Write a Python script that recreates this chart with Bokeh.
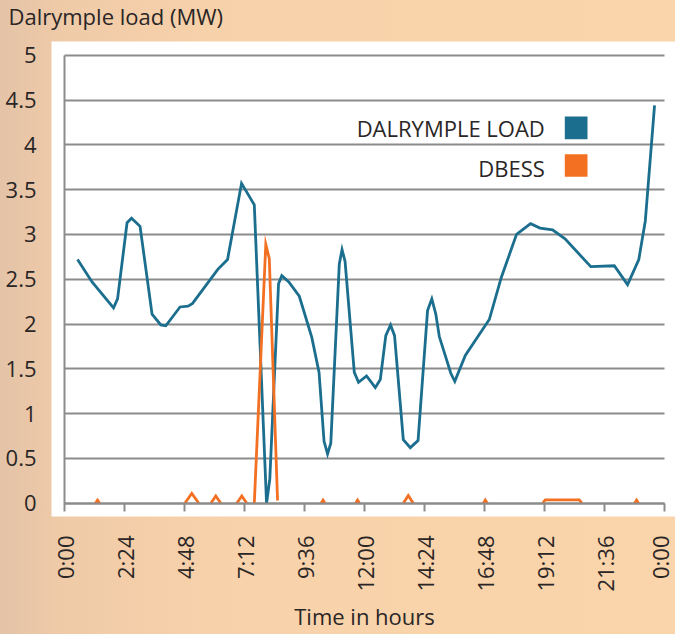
import math
from bokeh.plotting import figure
from bokeh.models import Range1d, LinearAxis, FixedTicker, Label, BoxAnnotation, CustomJSTickFormatter
from bokeh.embed import file_html
from bokeh.resources import INLINE

NAN = float("nan")

# ---- data (hours of day, MW) ----
LOAD_HOURS = [0.51, 1.09, 1.95, 2.11, 2.49, 2.67, 3.01, 3.49, 3.84, 4.04, 4.61, 4.93, 5.11,
              6.12, 6.51, 7.07, 7.58, 8.07, 8.20, 8.55, 8.68, 8.96, 9.38, 9.88, 10.17, 10.37,
              10.51, 10.64, 10.98, 11.09, 11.21, 11.58, 11.75, 12.07, 12.42, 12.62, 12.84,
              13.03, 13.19, 13.54, 13.82, 14.13, 14.51, 14.68, 14.84, 14.98, 15.44, 15.60,
              16.02, 16.98, 17.46, 18.07, 18.63, 19.01, 19.51, 20.01, 21.04, 21.98, 22.51,
              22.96, 23.22, 23.59]
LOAD_MW = [2.72, 2.47, 2.18, 2.28, 3.13, 3.18, 3.09, 2.11, 1.99, 1.98, 2.19, 2.20, 2.23,
           2.61, 2.72, 3.57, 3.33, 0.00, 0.27, 2.45, 2.54, 2.47, 2.31, 1.85, 1.46, 0.69,
           0.55, 0.67, 2.67, 2.83, 2.70, 1.46, 1.35, 1.42, 1.29, 1.38, 1.87,
           1.99, 1.87, 0.71, 0.62, 0.70, 2.15, 2.28, 2.11, 1.86, 1.45, 1.36,
           1.65, 2.05, 2.52, 3.00, 3.12, 3.07, 3.05, 2.95, 2.64, 2.65, 2.44,
           2.72, 3.15, 4.44]

DBESS_HOURS = [1.22, 1.31, 1.40, NAN,
               4.80, 5.08, 5.36, NAN,
               5.84, 6.04, 6.24, NAN,
               6.88, 7.08, 7.28, NAN,
               7.58, 8.04, 8.18, 8.51, NAN,
               10.25, 10.33, 10.41, NAN,
               11.63, 11.71, 11.79, NAN,
               13.54, 13.74, 13.94, NAN,
               16.74, 16.82, 16.90, NAN,
               19.12, 19.22, 20.58, 20.68, NAN,
               22.79, 22.87, 22.95]
DBESS_MW = [0.0, 0.035, 0.0, NAN,
            0.0, 0.11, 0.0, NAN,
            0.0, 0.08, 0.0, NAN,
            0.0, 0.08, 0.0, NAN,
            0.0, 2.89, 2.73, 0.03, NAN,
            0.0, 0.035, 0.0, NAN,
            0.0, 0.035, 0.0, NAN,
            0.0, 0.085, 0.0, NAN,
            0.0, 0.035, 0.0, NAN,
            0.0, 0.038, 0.038, 0.0, NAN,
            0.0, 0.035, 0.0]

X_TICKS = [0, 2.4, 4.8, 7.2, 9.6, 12, 14.4, 16.8, 19.2, 21.6, 24]
X_TICK_LABELS = ["0:00", "2:24", "4:48", "7:12", "9:36", "12:00", "14:24", "16:48",
                 "19:12", "21:36", "0:00"]
Y_TICKS = [0, 0.5, 1, 1.5, 2, 2.5, 3, 3.5, 4, 4.5, 5]
Y_TICK_LABELS = ["0", "0.5", "1", "1.5", "2", "2.5", "3", "3.5", "4", "4.5", "5"]

TITLE = "Dalrymple load (MW)"
X_TITLE = "Time in hours"
SERIES_NAMES = ["DALRYMPLE LOAD", "DBESS"]
BLUE = "#1B6E8E"
ORANGE = "#F37022"
GRAY = "#8C8C8C"
TEXT = "#2A2626"
FONT = "Open Sans"
FS = "22px"

# the frame covers the whole canvas; the white panel is a box in data space
X0, X1 = -2.572, 24.428
Y0, Y1 = -1.4654, 5.6105
PANEL_L, PANEL_B, PANEL_T = -0.532, -0.1484, 5.153

p = figure(width=675, height=634, output_backend="svg", toolbar_location=None,
           x_range=Range1d(X0, X1), y_range=Range1d(Y0, Y1),
           x_axis_location=None, y_axis_location=None, min_border=0)

p.background_fill_color = None
p.border_fill_color = None
p.outline_line_color = None
p.styles = {"background-image": "linear-gradient(to right, #E4C3A7 0%, #F0CBA8 10%, #F8D2AA 35%, #FAD4AA 100%)"}

p.add_layout(BoxAnnotation(left=PANEL_L, right=X1, bottom=PANEL_B, top=PANEL_T,
                           fill_color="white", fill_alpha=1.0, line_color=None,
                           level="image"))

# grid
p.xgrid.visible = False
p.ygrid.ticker = FixedTicker(ticks=Y_TICKS)
p.ygrid.grid_line_color = GRAY
p.ygrid.grid_line_width = 1.9
p.ygrid.bounds = (0, 5)
p.ygrid.cross_bounds = (0, 24)

blank = CustomJSTickFormatter(code="return ''")

# label axes along the panel edges
lab_x = LinearAxis(fixed_location=PANEL_B, ticker=FixedTicker(ticks=X_TICKS), bounds=(0, 24),
                   major_label_overrides={t: l for t, l in zip(X_TICKS, X_TICK_LABELS)},
                   axis_line_color=None, major_tick_line_color=None, minor_tick_line_color=None,
                   major_tick_out=0, major_tick_in=0,
                   major_label_orientation=math.pi / 2, major_label_standoff=19,
                   major_label_text_font=FONT, major_label_text_font_size=FS,
                   major_label_text_color=TEXT,
                   axis_label=X_TITLE, axis_label_standoff=6, axis_label_text_font=FONT,
                   axis_label_text_font_size=FS, axis_label_text_font_style="normal",
                   axis_label_text_color=TEXT)
lab_y = LinearAxis(fixed_location=PANEL_L, ticker=FixedTicker(ticks=Y_TICKS), bounds=(0, 5),
                   major_label_overrides={t: l for t, l in zip(Y_TICKS, Y_TICK_LABELS)},
                   axis_line_color=None, major_tick_line_color=None, minor_tick_line_color=None,
                   major_tick_out=0, major_tick_in=0, major_label_standoff=15,
                   major_label_text_font=FONT, major_label_text_font_size=FS,
                   major_label_text_color=TEXT)
p.add_layout(lab_x, "below")
p.add_layout(lab_y, "left")

# axis lines inside the panel
ax_x = LinearAxis(fixed_location=0, ticker=FixedTicker(ticks=X_TICKS), bounds=(0, 24),
                  formatter=blank, axis_line_color=GRAY, axis_line_width=2,
                  major_tick_line_color=GRAY, major_tick_line_width=2,
                  major_tick_out=8, major_tick_in=0, minor_tick_line_color=None)
ax_y = LinearAxis(fixed_location=0, ticker=FixedTicker(ticks=Y_TICKS), bounds=(0, 5),
                  formatter=blank, axis_line_color=GRAY, axis_line_width=2,
                  major_tick_line_color=None, major_tick_out=0, major_tick_in=0,
                  minor_tick_line_color=None)
p.add_layout(ax_x, "below")
p.add_layout(ax_y, "left")

# series
p.line(LOAD_HOURS, LOAD_MW, line_color=BLUE, line_width=2.8, line_join="miter")
p.line(DBESS_HOURS, DBESS_MW, line_color=ORANGE, line_width=2.8, line_join="miter")

# title at the top-left corner
p.title.text = ""
p.add_layout(Label(x=X0, y=Y1, x_offset=8, y_offset=-15, text=TITLE,
                   text_align="left", text_baseline="alphabetic",
                   text_font=FONT, text_font_size=FS, text_color=TEXT))

# legend (text on the left, swatch on the right)
LEG_TEXT_X = 19.2
LEG_BASELINES = [4.185, 3.74]
LEG_BOXES = [(4.0625, 4.316), (3.643, 3.895)]
for name, yb, (b, t), c in zip(SERIES_NAMES, LEG_BASELINES, LEG_BOXES, [BLUE, ORANGE]):
    p.add_layout(Label(x=LEG_TEXT_X, y=yb, text=name, text_align="right",
                       text_baseline="alphabetic", text_font=FONT, text_font_size=FS,
                       text_color=TEXT))
    p.add_layout(BoxAnnotation(left=20.0, right=20.908, bottom=b, top=t,
                               fill_color=c, fill_alpha=1.0, line_color=None))

open("out.html", "w").write(file_html(p, INLINE))
